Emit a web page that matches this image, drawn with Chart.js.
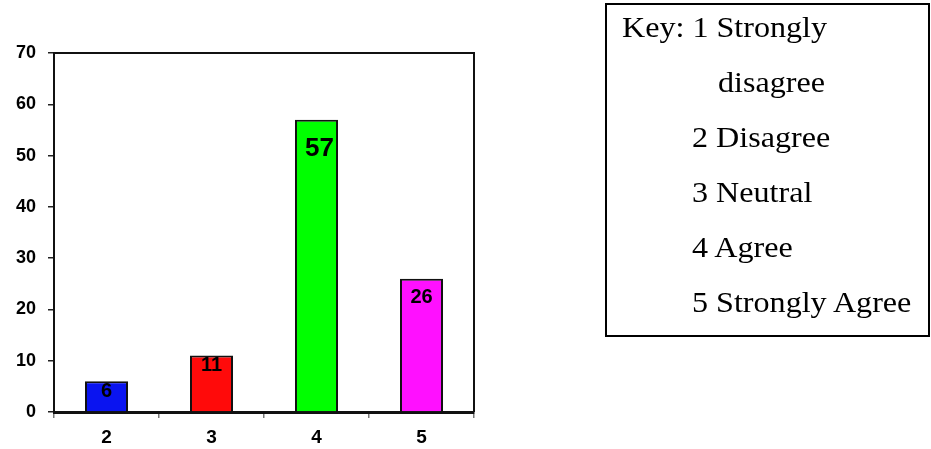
<!DOCTYPE html>
<html>
<head>
<meta charset="utf-8">
<script src="https://cdn.jsdelivr.net/npm/chart.js@4.4.1/dist/chart.umd.min.js"></script>
<style>
  html, body { margin: 0; padding: 0; background: #fff; }
  #wrap { position: relative; width: 931px; height: 449px; }
  #keyBox {
    position: absolute; left: 605px; top: 3px; width: 325px; height: 334px;
    border: 2px solid #000; box-sizing: border-box;
    font-family: "Liberation Serif", "Times New Roman", serif; font-size: 30px; color: #000;
  }
  #keyBox div {
    position: absolute; white-space: nowrap; line-height: 30px;
    transform: scaleX(1.07); transform-origin: left center;
  }
</style>
</head>
<body>
<div id="wrap">
  <canvas id="surveyChart" width="931" height="449"></canvas>
  <div id="keyBox"></div>
</div>
<script>
  const categories = ["2", "3", "4", "5"];
  const responses = [6, 11, 57, 26];
  const barColors = ["#0a14f0", "#ff0a0a", "#00ff00", "#ff10ff"];
  const yTicks = [0, 10, 20, 30, 40, 50, 60, 70];
  const keyLines = [
    "Key: 1 Strongly",
    "disagree",
    "2 Disagree",
    "3 Neutral",
    "4 Agree",
    "5 Strongly Agree"
  ];

  // key text, line by line
  const keyBox = document.getElementById("keyBox");
  const keyIndent = [15, 111, 85, 85, 85, 85];
  keyLines.forEach((txt, i) => {
    const line = document.createElement("div");
    line.textContent = txt;
    line.style.left = keyIndent[i] + "px";
    line.style.top = (7 + i * 55) + "px";
    keyBox.appendChild(line);
  });

  // frame on top and right of the plot area
  const frameBorder = {
    id: "frameBorder",
    afterDraw(chart) {
      const { ctx, chartArea: a } = chart;
      ctx.save();
      ctx.strokeStyle = "#111";
      ctx.lineWidth = 2;
      ctx.beginPath();
      ctx.moveTo(a.left, a.top);
      ctx.lineTo(a.right, a.top);
      ctx.lineTo(a.right, a.bottom);
      ctx.stroke();
      ctx.restore();
    }
  };

  // values written inside the top of each bar
  const labelOffset = [10, 10, 29, 19];
  const barValues = {
    id: "barValues",
    afterDatasetsDraw(chart) {
      const { ctx } = chart;
      const meta = chart.getDatasetMeta(0);
      ctx.save();
      ctx.fillStyle = "#000";
      ctx.textAlign = "center";
      ctx.textBaseline = "middle";
      meta.data.forEach((bar, i) => {
        const big = responses[i] > 50;
        ctx.font = "bold " + (big ? 26 : 20) + "px 'Liberation Sans', Arial, sans-serif";
        ctx.fillText(String(responses[i]), bar.x + (big ? 3 : 0), bar.y + labelOffset[i]);
      });
      ctx.restore();
    }
  };

  Chart.defaults.font.family = "'Liberation Sans', Arial, sans-serif";
  Chart.defaults.font.weight = "bold";

  new Chart(document.getElementById("surveyChart"), {
    type: "bar",
    data: {
      labels: categories,
      datasets: [{
        data: responses,
        backgroundColor: barColors,
        borderColor: "#111",
        borderWidth: 2,
        categoryPercentage: 1,
        barPercentage: 0.41
      }]
    },
    options: {
      responsive: false,
      animation: false,
      layout: { padding: { top: 53, right: 457, left: 0, bottom: 0 } },
      plugins: { legend: { display: false }, tooltip: { enabled: false } },
      scales: {
        x: {
          grid: { drawOnChartArea: false, color: "#777", tickLength: 6, lineWidth: 1.5 },
          border: { color: "#111", width: 3 },
          ticks: { color: "#000", font: { size: 19, weight: "bold" }, padding: 8 },
          afterFit(scale) { scale.height = 37; }
        },
        y: {
          min: 0,
          max: 70,
          afterBuildTicks(scale) { scale.ticks = yTicks.map(v => ({ value: v })); },
          grid: { drawOnChartArea: false, color: "#222", tickLength: 6, lineWidth: 1.5 },
          border: { color: "#111", width: 2 },
          ticks: { color: "#000", font: { size: 18, weight: "bold" }, padding: 12 },
          afterFit(scale) { scale.width = 54; }
        }
      }
    },
    plugins: [frameBorder, barValues]
  });
</script>
</body>
</html>
